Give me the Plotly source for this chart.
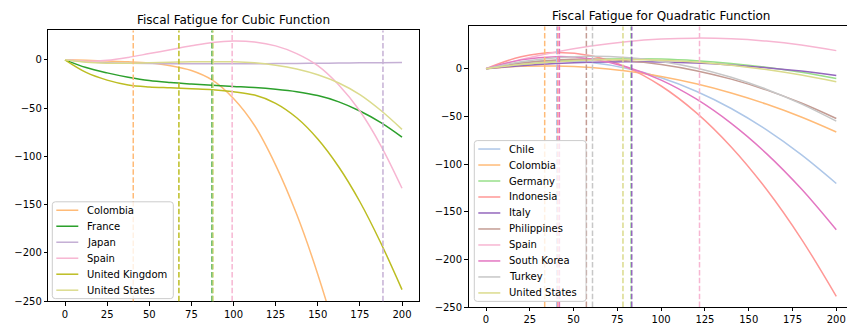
import plotly.graph_objects as go

# ---------------- data ----------------
x_cubic = [0, 12.5, 25, 37.5, 50, 62.5, 75, 87.5, 100, 112.5, 125, 137.5, 150, 162.5, 175, 187.5, 200]
cubic_names = ["Colombia", "France", "Japan", "Spain", "United Kingdom", "United States"]
cubic_colombia = [0, -0.5, -1.2, -2.0, -3.3, -6.0, -11, -21, -40, -68, -109, -160, -222, -295, -380, -475, -580]
cubic_france = [0, -8, -13.5, -18, -21.5, -23.5, -25, -26.3, -27.5, -28.7, -30.5, -33, -37, -43.5, -53, -65, -80]
cubic_japan = [0, -2, -3, -3.5, -3.8, -4, -4, -4, -4, -4, -3.9, -3.7, -3.5, -3.3, -3.1, -2.9, -2.7]
cubic_spain = [0, -1.5, -0.5, 2.5, 6.5, 10.5, 14.5, 18, 19.5, 18.5, 14.5, 6.5, -6, -26, -53, -89, -133]
cubic_uk = [0, -13, -21, -26, -28, -29, -30, -31, -33, -36.5, -45, -60, -82, -111, -147, -190, -238]
cubic_us = [0, -2.5, -3.5, -3.5, -3, -2.5, -2, -2, -2, -3, -5.5, -9.5, -15.5, -24, -36, -52.5, -72]
cubic_peaks = [40.5, 87.3, 188.7, 99.2, 67.6, 87.9]
cubic_colors = ["#ffbb78", "#2ca02c", "#c5b0d5", "#f7b6d2", "#bcbd22", "#dbdb8d"]

x_quad = [0, 20, 40, 60, 80, 100, 120, 140, 160, 180, 200]
quad_names = ["Chile", "Colombia", "Germany", "Indonesia", "Italy", "Philippines",
              "Spain", "South Korea", "Turkey", "United States"]
quad_chile = [0, 6.2, 8.3, 6.4, 0.4, -9.6, -23.7, -41.8, -64.0, -90.2, -120.4]
quad_colombia = [0, 2.4, 2.7, 1.1, -2.6, -8.2, -15.9, -25.5, -37.1, -50.7, -66.4]
quad_germany = [0, 4.4, 7.6, 9.6, 10.4, 10.0, 8.3, 5.5, 1.5, -3.8, -10.3]
quad_indonesia = [0, 12.5, 17.0, 13.4, 1.6, -18.2, -46.1, -82.1, -126.2, -178.4, -238.7]
quad_italy = [0, 3.1, 5.3, 6.7, 7.2, 6.9, 5.8, 3.8, 1.0, -2.6, -7.1]
quad_philippines = [0, 5.8, 9.1, 10.0, 8.4, 4.4, -2.1, -11.0, -22.3, -36.1, -52.3]
quad_spain = [0, 9.6, 17.5, 23.7, 28.2, 31.0, 32.0, 31.3, 28.9, 24.8, 18.9]
quad_south_korea = [0, 9.2, 12.6, 10.2, 2.0, -12.0, -31.8, -57.4, -88.8, -126.0, -169.0]
quad_turkey = [0, 7.2, 11.5, 13.0, 11.7, 7.6, 0.7, -9.1, -21.6, -37.0, -55.1]
quad_us = [0, 4.3, 7.3, 9.1, 9.6, 8.9, 6.9, 3.6, -0.9, -6.7, -13.7]
quad_peaks = [40.4, 33.5, 82.8, 41.0, 83.2, 57.3, 121.9, 41.9, 60.8, 78.2]
quad_colors = ["#aec7e8", "#ffbb78", "#98df8a", "#ff9896", "#9467bd", "#c49c94",
               "#f7b6d2", "#e377c2", "#c7c7c7", "#dbdb8d"]

x_ticks = [0, 25, 50, 75, 100, 125, 150, 175, 200]
y_ticks = [-250, -200, -150, -100, -50, 0]

cubic_series = [cubic_colombia, cubic_france, cubic_japan, cubic_spain, cubic_uk, cubic_us]
quad_series = [quad_chile, quad_colombia, quad_germany, quad_indonesia, quad_italy,
               quad_philippines, quad_spain, quad_south_korea, quad_turkey, quad_us]

# ---------------- figure ----------------
W, H = 847, 325
VS = 0.9754          # observed vertical scale of the rendered page
FONT = "DejaVu Sans"


def px(X):
    return X / W


def py(Y):
    return 1 - Y / (VS * H)


fig = go.Figure()
shapes = []
annotations = []

for name, ys, col, pk in zip(cubic_names, cubic_series, cubic_colors, cubic_peaks):
    fig.add_trace(go.Scatter(x=x_cubic, y=ys, mode="lines", name=name,
                             line=dict(color=col, width=1.5, shape="spline"),
                             xaxis="x", yaxis="y", showlegend=False))
    shapes.append(dict(type="line", xref="x", yref="y domain", x0=pk, x1=pk, y0=0, y1=1,
                       line=dict(color=col, width=1.5, dash="5.5px,2.4px")))

for name, ys, col, pk in zip(quad_names, quad_series, quad_colors, quad_peaks):
    fig.add_trace(go.Scatter(x=x_quad, y=ys, mode="lines", name=name,
                             line=dict(color=col, width=1.5, shape="spline"),
                             xaxis="x2", yaxis="y2", showlegend=False))
    shapes.append(dict(type="line", xref="x2", yref="y2 domain", x0=pk, x1=pk, y0=0, y1=1,
                       line=dict(color=col, width=1.5, dash="5.5px,2.4px")))


def add_legend(names, colors, left, right, top, spacing, first_offset):
    n = len(names)
    bottom = top + first_offset * 2 + (n - 1) * spacing
    r = 3
    x0, x1, y0, y1 = left, right, top, bottom
    path = (f"M {px(x0 + r)},{py(y0)} L {px(x1 - r)},{py(y0)} "
            f"Q {px(x1)},{py(y0)} {px(x1)},{py(y0 + r)} L {px(x1)},{py(y1 - r)} "
            f"Q {px(x1)},{py(y1)} {px(x1 - r)},{py(y1)} L {px(x0 + r)},{py(y1)} "
            f"Q {px(x0)},{py(y1)} {px(x0)},{py(y1 - r)} L {px(x0)},{py(y0 + r)} "
            f"Q {px(x0)},{py(y0)} {px(x0 + r)},{py(y0)} Z")
    shapes.append(dict(type="path", xref="paper", yref="paper", path=path,
                       fillcolor="rgba(255,255,255,0.8)",
                       line=dict(color="#cccccc", width=1)))
    for i, (nm, col) in enumerate(zip(names, colors)):
        yc = top + first_offset + i * spacing
        shapes.append(dict(type="line", xref="paper", yref="paper",
                           x0=px(left + 4), x1=px(left + 26), y0=py(yc), y1=py(yc),
                           line=dict(color=col, width=1.5)))
        annotations.append(dict(text=nm, xref="paper", yref="paper", x=px(left + 32.5),
                                y=py(yc), xanchor="left", yanchor="middle", showarrow=False,
                                font=dict(size=10, color="black", family=FONT)))


add_legend(cubic_names, cubic_colors, 52.3, 173.3, 205.7, 16.3, 8.6)
add_legend(quad_names, quad_colors, 474.3, 586.0, 143.3, 16.3, 8.6)

annotations += [
    dict(text="Fiscal Fatigue for Cubic Function", xref="paper", yref="paper",
         x=px(233), y=py(20), xanchor="center", yanchor="middle",
         showarrow=False, font=dict(size=12, color="black", family=FONT)),
    dict(text="Fiscal Fatigue for Quadratic Function", xref="paper", yref="paper",
         x=px(661), y=py(16), xanchor="center", yanchor="middle",
         showarrow=False, font=dict(size=12, color="black", family=FONT)),
]

axis_common = dict(showgrid=False, zeroline=False, showline=True, linecolor="black",
                   linewidth=0.8, ticks="outside", ticklen=3.5, tickwidth=0.8,
                   tickcolor="black", tickfont=dict(size=10, color="black", family=FONT))

fig.update_layout(
    width=W, height=H, autosize=False,
    margin=dict(l=0, r=0, t=0, b=0),
    paper_bgcolor="white", plot_bgcolor="white",
    font=dict(family=FONT, size=10, color="black"),
    xaxis=dict(domain=[px(48.15), px(418.85)], range=[-10, 210], tickvals=x_ticks,
               anchor="y", mirror=True, **axis_common),
    yaxis=dict(domain=[py(307), py(31)], range=[-250, 30.5], tickvals=y_ticks,
               anchor="x", mirror=True, **axis_common),
    xaxis2=dict(domain=[px(468.5), 1.0], range=[-10, (847 - 486.3) / 1.75], tickvals=x_ticks,
                anchor="y2", mirror=True, **axis_common),
    yaxis2=dict(domain=[py(313), py(27)], range=[-250, 44.2], tickvals=y_ticks,
                anchor="x2", mirror=False, **axis_common),
    shapes=shapes,
    annotations=annotations,
    showlegend=False,
    hovermode=False,
)

fig.write_html("out.html", config={"displayModeBar": False},
               post_script="document.body.style.margin='0';document.body.style.overflow='hidden';")
